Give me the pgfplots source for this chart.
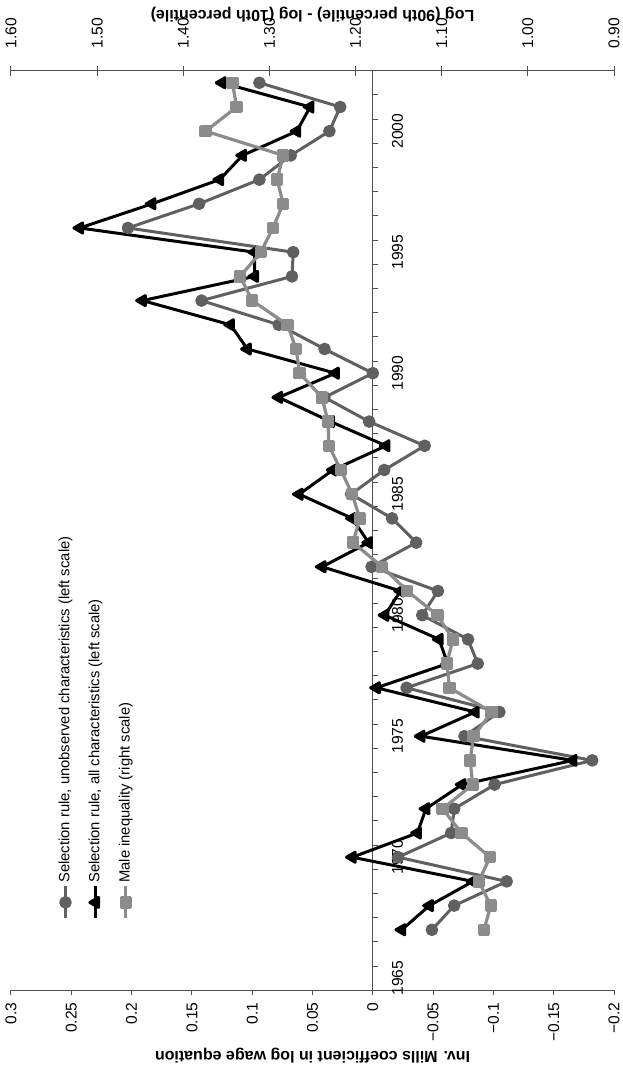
\documentclass[border=0pt]{standalone}
\usepackage{fontspec}
\setmainfont{Liberation Sans}
\usepackage{pgfplots}
\usepackage{pgfplotstable}
\pgfplotsset{compat=1.18}
\usetikzlibrary{calc}
\definecolor{cdark}{RGB}{96,96,96}
\definecolor{clight}{RGB}{140,140,140}
\definecolor{caxis}{RGB}{80,80,80}

\pgfplotstableread{
year unobs all
1967 -0.049 -0.024
1968 -0.0675 -0.047
1969 -0.111 -0.083
1970 -0.021 0.017
1971 -0.065 -0.037
1972 -0.0675 -0.044
1973 -0.101 -0.074
1974 -0.182 -0.166
1975 -0.076 -0.040
1976 -0.105 -0.085
1977 -0.028 -0.003
1978 -0.087 -0.062
1979 -0.079 -0.055
1980 -0.041 -0.010
1981 -0.054 -0.023
1982 0.001 0.042
1983 -0.036 0.0035
1984 -0.016 0.017
1985 0.018 0.061
1986 -0.0095 0.033
1987 -0.043 -0.011
1988 0.003 0.035
1989 0.040 0.078
1990 0.000 0.031
1991 0.040 0.104
1992 0.078 0.118
1993 0.142 0.191
1994 0.067 0.098
1995 0.066 0.098
1996 0.203 0.243
1997 0.144 0.183
1998 0.094 0.127
1999 0.068 0.108
2000 0.036 0.063
2001 0.027 0.052
2002 0.094 0.125
}\selrule

\pgfplotstableread{
year ineq
1967 1.051
1968 1.043
1969 1.057
1970 1.044
1971 1.077
1972 1.099
1973 1.064
1974 1.067
1975 1.063
1976 1.042
1977 1.091
1978 1.094
1979 1.087
1980 1.105
1981 1.140
1982 1.169
1983 1.203
1984 1.195
1985 1.204
1986 1.217
1987 1.231
1988 1.232
1989 1.239
1990 1.265
1991 1.269
1992 1.279
1993 1.320
1994 1.334
1995 1.310
1996 1.296
1997 1.284
1998 1.291
1999 1.284
2000 1.374
2001 1.338
2002 1.343
}\ineq

\pgfplotsset{
  common/.style={
    scale only axis, width=459.8pt, height=301.5pt,
    at={(0,0)}, anchor=south west,
    xmin=1964.5, xmax=2002.5,
    axis line style={color=caxis, line width=0.5pt, -},
    every inner x axis line/.append style={-},
    every outer x axis line/.append style={-},
    every inner y axis line/.append style={-},
    every outer y axis line/.append style={-},
    every tick/.style={color=caxis, line width=0.5pt},
    tick label style={font=\fontsize{7.8}{9}\selectfont, text=black},
    label style={font=\bfseries\fontsize{8}{9.6}\selectfont},
    clip=false,
  },
  s1/.style={color=cdark, line width=1.5pt, line join=round, mark=*, mark size=2.4pt, mark options={solid, fill=cdark}},
  s2/.style={color=black, line width=1.5pt, line join=round, mark=triangle*, mark size=2.9pt, mark options={solid, fill=black}},
  s3/.style={color=clight, line width=1.6pt, line join=round, mark=square*, mark size=2.3pt, mark options={solid, fill=clight}},
}

\begin{document}
\begin{tikzpicture}[rotate=90, transform shape]
\begin{axis}[common, name=ax1,
  ymin=-0.2, ymax=0.3,
  axis x line=middle, axis y line*=left,
  x axis line style={-},
  tick align=outside, major tick length=2.5pt,
  xtick={1964.5,1965.5,...,2002.5}, xticklabels={},
  extra x ticks={1965,1970,1975,1980,1985,1990,1995,2000},
  extra x tick labels={1965,1970,1975,1980,1985,1990,1995,2000},
  extra x tick style={major tick length=0pt, tick label style={yshift=-6pt}},
  ytick={-0.2,-0.15,-0.1,-0.05,0,0.05,0.1,0.15,0.2,0.25,0.3},
  yticklabels={−0.2,−0.15,−0.1,−0.05,0,0.05,0.1,0.15,0.2,0.25,0.3},
  ylabel={Inv. Mills coefficient in log wage equation},
  ylabel style={at={(axis description cs:-0.0707,0.5)}, anchor=center},
]
\addplot[s1] table[x=year, y=unobs]{\selrule};
\addplot[s2] table[x=year, y=all]{\selrule};
\end{axis}
\begin{axis}[common, name=ax2,
  ymin=0.9, ymax=1.6,
  axis x line=none, axis y line*=right,
  tick align=center, major tick length=5pt,
  ytick={0.9,1.0,1.1,1.2,1.3,1.4,1.5,1.6},
  yticklabels={0.90,1.00,1.10,1.20,1.30,1.40,1.50,1.60},
  yticklabel style={xshift=5pt},
  ylabel={Log (90th percentile) - log (10th percentile)},
  ylabel style={at={(axis description cs:1.0605,0.5)}, anchor=center},
  legend style={draw=none, fill=none, at={(axis description cs:0.076,0.925)}, anchor=north west,
    font=\fontsize{7.4}{8.6}\selectfont, row sep=6.2pt, inner sep=0pt,
    nodes={inner sep=1pt}},
  legend cell align=left,
  legend image code/.code={\draw[mark repeat=2, mark phase=2, #1] plot coordinates {(0pt,0pt) (8pt,0pt) (16pt,0pt)};},
]
\addlegendimage{s1}
\addlegendentry{Selection rule, unobserved characteristics (left scale)}
\addlegendimage{s2}
\addlegendentry{Selection rule, all characteristics (left scale)}
\addplot[s3] table[x=year, y=ineq]{\ineq};
\addlegendentry{Male inequality (right scale)}
\end{axis}
\pgfresetboundingbox
\path[use as bounding box] ($(ax1.south west)+(-38.85pt,-4pt)$) rectangle ($(ax1.north east)+(35.35pt,5.5pt)$);
\end{tikzpicture}
\end{document}
